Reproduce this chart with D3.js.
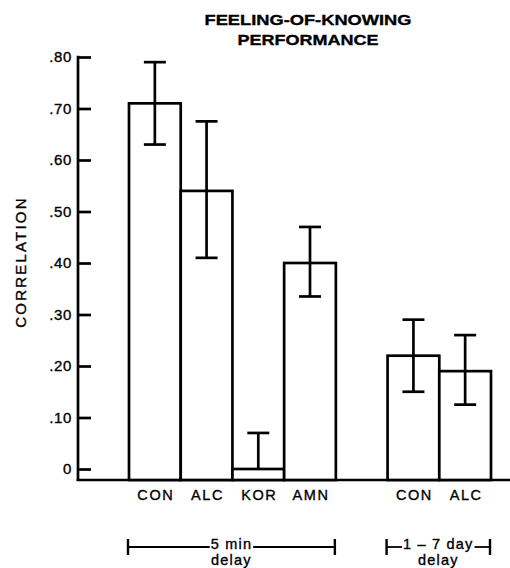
<!DOCTYPE html>
<html>
<head>
<meta charset="utf-8">
<script src="https://cdn.jsdelivr.net/npm/d3@7"></script>
<style>
  html, body { margin: 0; padding: 0; background: #fff; }
  svg { display: block; }
  text { font-family: "Liberation Sans", Arial, sans-serif; fill: #000; }
</style>
</head>
<body>
<svg id="chart" width="510" height="568"></svg>
<script>
// ---- data ----
const slots = ["CON-5", "ALC-5", "KOR-5", "AMN-5", "gap", "CON-7", "ALC-7"];
const barKeys = ["CON-5", "ALC-5", "KOR-5", "AMN-5", "CON-7", "ALC-7"];
const barLabels = ["CON", "ALC", "KOR", "AMN", "CON", "ALC"];
const correlations = [0.71, 0.54, 0.00, 0.40, 0.22, 0.19];
const errLow = [0.63, 0.41, 0.00, 0.335, 0.15, 0.125];
const errHigh = [0.79, 0.675, 0.07, 0.47, 0.29, 0.26];
const yTicks = [0, 0.10, 0.20, 0.30, 0.40, 0.50, 0.60, 0.70, 0.80];
const yTickLabels = ["0", ".10", ".20", ".30", ".40", ".50", ".60", ".70", ".80"];
const titleLines = ["FEELING-OF-KNOWING", "PERFORMANCE"];
const yTitle = "CORRELATION";
const groups = [
  { from: "CON-5", to: "AMN-5", line1: "5 min", line2: "delay" },
  { from: "CON-7", to: "ALC-7", line1: "1 \u2013 7 day", line2: "delay" }
];

// ---- layout ----
const svg = d3.select("#chart");
const axisX = 78, baseY = 480;
const y = d3.scaleLinear().domain([0, 0.8]).range([469, 57]);
const x = d3.scaleBand().domain(slots).range([129, 491]).padding(0);
const ink = "#000";
const heavy = sel => sel.attr("stroke", ink).attr("stroke-width", 0.35);

// title
svg.append("text").attr("x", 308).attr("y", 25).attr("text-anchor", "middle")
  .attr("font-family", "DejaVu Sans, sans-serif")
  .attr("font-size", 15.5).attr("font-weight", "bold")
  .attr("textLength", 207).attr("lengthAdjust", "spacingAndGlyphs")
  .text(titleLines[0]).call(heavy);
svg.append("text").attr("x", 308).attr("y", 45).attr("text-anchor", "middle")
  .attr("font-family", "DejaVu Sans, sans-serif")
  .attr("font-size", 15.5).attr("font-weight", "bold")
  .attr("textLength", 141).attr("lengthAdjust", "spacingAndGlyphs")
  .text(titleLines[1]).call(heavy);

// y axis
const yAxis = d3.axisLeft(y)
  .tickValues(yTicks)
  .tickFormat((d, i) => yTickLabels[i])
  .tickSizeInner(-13).tickSizeOuter(0).tickPadding(6);
const gy = svg.append("g").attr("transform", `translate(${axisX},0)`).call(yAxis);
gy.select(".domain").remove();
gy.selectAll(".tick line").attr("stroke", ink).attr("stroke-width", 2.7);
gy.selectAll(".tick text").attr("font-size", 15).attr("letter-spacing", 0.6)
  .attr("font-family", "Liberation Sans, Arial, sans-serif").attr("fill", ink)
  .call(heavy);

svg.append("line").attr("x1", axisX).attr("x2", axisX)
  .attr("y1", y(0.8) - 1.3).attr("y2", baseY + 1)
  .attr("stroke", ink).attr("stroke-width", 2.7);
svg.append("line").attr("x1", axisX - 1.3).attr("x2", 510)
  .attr("y1", baseY).attr("y2", baseY)
  .attr("stroke", ink).attr("stroke-width", 2.7);

// y title
svg.append("text")
  .attr("transform", `translate(26,262) rotate(-90)`)
  .attr("text-anchor", "middle").attr("font-size", 15)
  .attr("letter-spacing", 2.2)
  .text(yTitle).call(heavy);

// bars
const data = barKeys.map((k, i) => ({ key: k, label: barLabels[i], v: correlations[i], lo: errLow[i], hi: errHigh[i] }));
svg.append("g").selectAll("rect").data(data).join("rect")
  .attr("x", d => x(d.key))
  .attr("y", d => y(d.v))
  .attr("width", x.bandwidth())
  .attr("height", d => baseY - y(d.v))
  .attr("fill", "#fff").attr("stroke", ink).attr("stroke-width", 2.7);

// error bars
const capW = 11;
const eg = svg.append("g").attr("stroke", ink).attr("stroke-width", 2.7);
data.forEach(d => {
  const cx = x(d.key) + x.bandwidth() / 2;
  eg.append("line").attr("x1", cx).attr("x2", cx).attr("y1", y(d.hi)).attr("y2", y(d.lo));
  eg.append("line").attr("x1", cx - capW).attr("x2", cx + capW).attr("y1", y(d.hi)).attr("y2", y(d.hi));
  if (d.lo > 0) eg.append("line").attr("x1", cx - capW).attr("x2", cx + capW).attr("y1", y(d.lo)).attr("y2", y(d.lo));
});

// category labels
svg.append("g").selectAll("text").data(data).join("text")
  .attr("x", d => x(d.key) + x.bandwidth() / 2 + 1)
  .attr("y", 500)
  .attr("text-anchor", "middle").attr("font-size", 14.5).attr("letter-spacing", 1.6)
  .text(d => d.label).call(heavy);

// group brackets
groups.forEach(g => {
  const x1 = x(g.from) - 1, x2 = x(g.to) + x.bandwidth() - 1;
  const cx = (x1 + x2) / 2;
  const ly = 547;
  const t = svg.append("text").attr("x", cx).attr("y", ly + 2)
    .attr("text-anchor", "middle").attr("font-size", 14.5).attr("letter-spacing", 1.2)
    .text(g.line1).call(heavy);
  const w = t.node().getComputedTextLength();
  svg.append("text").attr("x", cx).attr("y", 565)
    .attr("text-anchor", "middle").attr("font-size", 14.5).attr("letter-spacing", 1.2)
    .text(g.line2).call(heavy);
  const b = svg.append("g").attr("stroke", ink).attr("stroke-width", 2.4);
  b.append("line").attr("x1", x1).attr("x2", x1).attr("y1", ly - 8).attr("y2", ly + 8);
  b.append("line").attr("x1", x2).attr("x2", x2).attr("y1", ly - 8).attr("y2", ly + 8);
  b.append("line").attr("x1", x1).attr("x2", cx - w / 2 - 1).attr("y1", ly).attr("y2", ly).attr("stroke-width", 1.8);
  b.append("line").attr("x1", cx + w / 2 + 1).attr("x2", x2).attr("y1", ly).attr("y2", ly).attr("stroke-width", 1.8);
});
</script>
</body>
</html>
